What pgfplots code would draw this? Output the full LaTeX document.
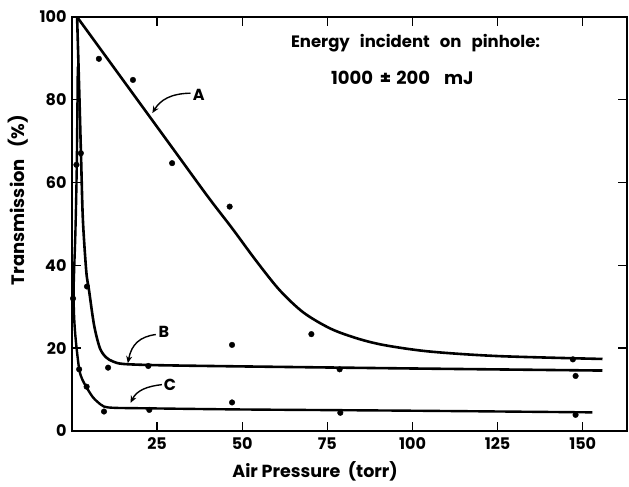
\documentclass[border=0pt]{standalone}
\usepackage{pgfplots}
\pgfplotsset{compat=1.18}
\usepackage{fontspec}
\setmainfont{Poppins}
\usetikzlibrary{arrows.meta}
\begin{document}
\begin{tikzpicture}
\begin{axis}[
 at={(0,0)}, anchor=south west,
 scale only axis, width=555pt, height=414pt,
 xmin=0, xmax=163, ymin=0, ymax=100,
 xtick={25,50,75,100,125,150}, ytick={0,20,40,60,80,100},
 tick align=inside, major tick length=9pt,
 tick style={line width=1.4pt, black},
 axis line style={line width=2pt},
 every tick label/.append style={font=\fontsize{16}{18}\selectfont\bfseries},
 /pgf/number format/assume math mode=true,
 xticklabel style={yshift=-3pt},
 yticklabel style={xshift=-2pt},
 xlabel={Air Pressure\ \ (torr)},
 xlabel style={at={(axis description cs:0.438,-0.0976)}, anchor=center, font=\fontsize{17.5}{20}\selectfont\bfseries},
 ylabel={Transmission\ \ \ (\%)},
 ylabel style={at={(axis description cs:-0.0973,0.558)}, anchor=center, font=\fontsize{18}{20}\selectfont\bfseries},
 clip=false,
]
% curve A
\addplot[black, line width=2.6pt, smooth] coordinates {
 (1.5,100) (15,84.75) (30,67.8) (40,56.5) (47,49.0) (54,41.2) (61,34.0) (68,28.6) (76,24.7) (84,22.3) (92,20.7) (105,19.2) (125,18.1) (155.8,17.4)};
% curve B
\addplot[black, line width=2.6pt, smooth] coordinates {
 (1.5,100) (2.2,80) (2.7,65) (3.2,51) (4.2,38.5) (5,34) (6.5,25.5) (8.2,20) (10,17.8) (12,16.8) (15,16.2) (25,15.9) (50,15.6) (100,15.1) (155.8,14.6)};
% curve C
\addplot[black, line width=2.4pt, smooth] coordinates {
 (1.7,88) (1.4,64) (1.0,48) (0.5,35) (0.6,28) (1.1,22) (2.1,15) (3,12.5) (4.3,10.5) (6,8.3) (7.4,7.1) (9.4,5.9) (12.4,5.6) (20,5.5) (50,5.2) (100,4.9) (152.8,4.5)};
% data points A
\addplot[only marks, mark=*, mark size=2.8pt, black] coordinates {
 (7.9,89.9) (17.9,84.8) (29.4,64.7) (46.3,54.2) (70.3,23.4) (147.1,17.3)};
% data points B
\addplot[only marks, mark=*, mark size=2.8pt, black] coordinates {
 (2.6,67.1) (4.4,34.9) (10.6,15.3) (22.4,15.7) (47.0,20.8) (78.6,14.9) (147.9,13.3)};
% data points C
\addplot[only marks, mark=*, mark size=2.8pt, black] coordinates {
 (1.3,64.3) (0.3,32) (2.1,14.9) (4.3,10.7) (9.4,4.7) (22.7,5.1) (47.0,6.9) (78.8,4.4) (147.9,3.9)};
% labels and arrows
\node[font=\fontsize{16}{18}\selectfont\bfseries] at (axis cs:37.2,81.3) {A};
\draw[line width=1.4pt, -{Stealth[length=7pt,width=6pt]}] (axis cs:34.8,81.6) .. controls (axis cs:29,81.5) and (axis cs:26,80) .. (axis cs:23.6,76.8);
\node[font=\fontsize{16}{18}\selectfont\bfseries] at (axis cs:27.0,23.9) {B};
\draw[line width=1.4pt, -{Stealth[length=7pt,width=6pt]}] (axis cs:24.6,23.3) .. controls (axis cs:20,22.8) and (axis cs:17.5,21) .. (axis cs:16.4,16.4);
\node[font=\fontsize{16}{18}\selectfont\bfseries] at (axis cs:28.8,11.1) {C};
\draw[line width=1.4pt, -{Stealth[length=7pt,width=6pt]}] (axis cs:26.4,11.2) .. controls (axis cs:22,10.8) and (axis cs:19,9.8) .. (axis cs:17.2,6.8);
\node[font=\fontsize{16.5}{18}\selectfont\bfseries] at (axis cs:100.9,93.7) {Energy\hspace{10pt}incident\hspace{10pt}on\hspace{10pt}pinhole:};
\node[font=\fontsize{18}{18}\selectfont\bfseries] at (axis cs:97.0,85.3) {1000\hspace{7pt}±\hspace{5pt}200\hspace{14pt}mJ};
\end{axis}
\pgfresetboundingbox
\path (-72pt,-56pt) rectangle (557pt,431pt);
\end{tikzpicture}
\end{document}
